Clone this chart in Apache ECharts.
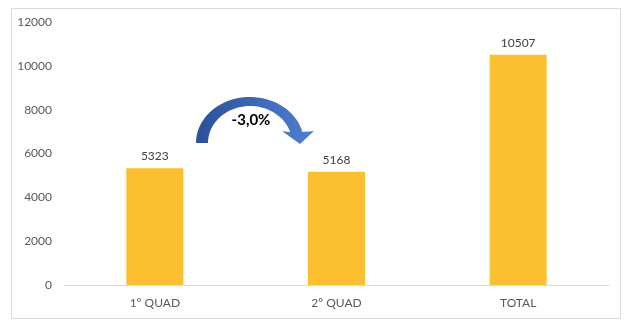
<!DOCTYPE html>
<html>
<head>
<meta charset="utf-8">
<script src="https://cdn.jsdelivr.net/npm/echarts@6/dist/echarts.min.js"></script>
<style>
html,body{margin:0;padding:0;background:#fff;}
#main{width:633px;height:328px;}
</style>
</head>
<body>
<div id="main"></div>
<script>
const categories = ['1º QUAD', '2º QUAD', 'TOTAL'];
const values = [5323, 5168, 10507];
const changeLabel = '-3,0%';

// curved arrow outline (decoration)
function arrowPoints() {
  const cx = 250, cy = 143;
  const pts = [];
  const oEnd = Math.asin(11 / 46), iEnd = Math.asin(11 / 38);
  const n = 40;
  for (let i = 0; i <= n; i++) {
    const a = Math.PI - (Math.PI - oEnd) * i / n;
    pts.push([cx + 54 * Math.cos(a), cy - 46 * Math.sin(a)]);
  }
  pts.push([314, 131], [300, 144], [282, 131]);
  for (let i = 0; i <= n; i++) {
    const a = iEnd + (Math.PI - iEnd) * i / n;
    pts.push([cx + 42 * Math.cos(a), cy - 37 * Math.sin(a)]);
  }
  return pts;
}

const chart = echarts.init(document.getElementById('main'));
const font = 'Lato, "Open Sans", sans-serif';
chart.setOption({
  animation: false,
  backgroundColor: '#ffffff',
  grid: { left: 64, right: 24, top: 22, bottom: 43 },
  xAxis: {
    type: 'category',
    data: categories,
    axisLine: { lineStyle: { color: '#D9D9D9', width: 1 } },
    axisTick: { show: false },
    axisLabel: { color: '#595959', fontSize: 12, fontFamily: font, margin: 12 }
  },
  yAxis: {
    type: 'value',
    min: 0, max: 12000, interval: 2000,
    axisLine: { show: false },
    axisTick: { show: false },
    splitLine: { show: false },
    axisLabel: { color: '#595959', fontSize: 12, fontFamily: font, margin: 12, formatter: v => String(v) }
  },
  series: [{
    type: 'bar',
    data: values,
    barWidth: 57,
    itemStyle: { color: '#FCBF2F' },
    label: { show: true, position: 'top', distance: 6, color: '#404040', fontSize: 12, fontFamily: font }
  }],
  graphic: [
    {
      type: 'rect', silent: true, z: -1,
      shape: { x: 11.5, y: 8.5, width: 609, height: 310 },
      style: { fill: 'none', stroke: '#D9D9D9', lineWidth: 1 }
    },
    {
      type: 'polygon', silent: true,
      shape: { points: arrowPoints() },
      style: {
        fill: {
          type: 'linear', x: 0, y: 0, x2: 1, y2: 0,
          colorStops: [
            { offset: 0, color: '#2A5196' },
            { offset: 1, color: '#4F7FD3' }
          ]
        }
      }
    },
    {
      type: 'text', silent: true,
      x: 251, y: 120,
      style: {
        text: changeLabel, fill: '#000000', fontSize: 15, fontWeight: 'bold',
        fontFamily: font, align: 'center', verticalAlign: 'middle'
      }
    }
  ]
});
</script>
</body>
</html>
